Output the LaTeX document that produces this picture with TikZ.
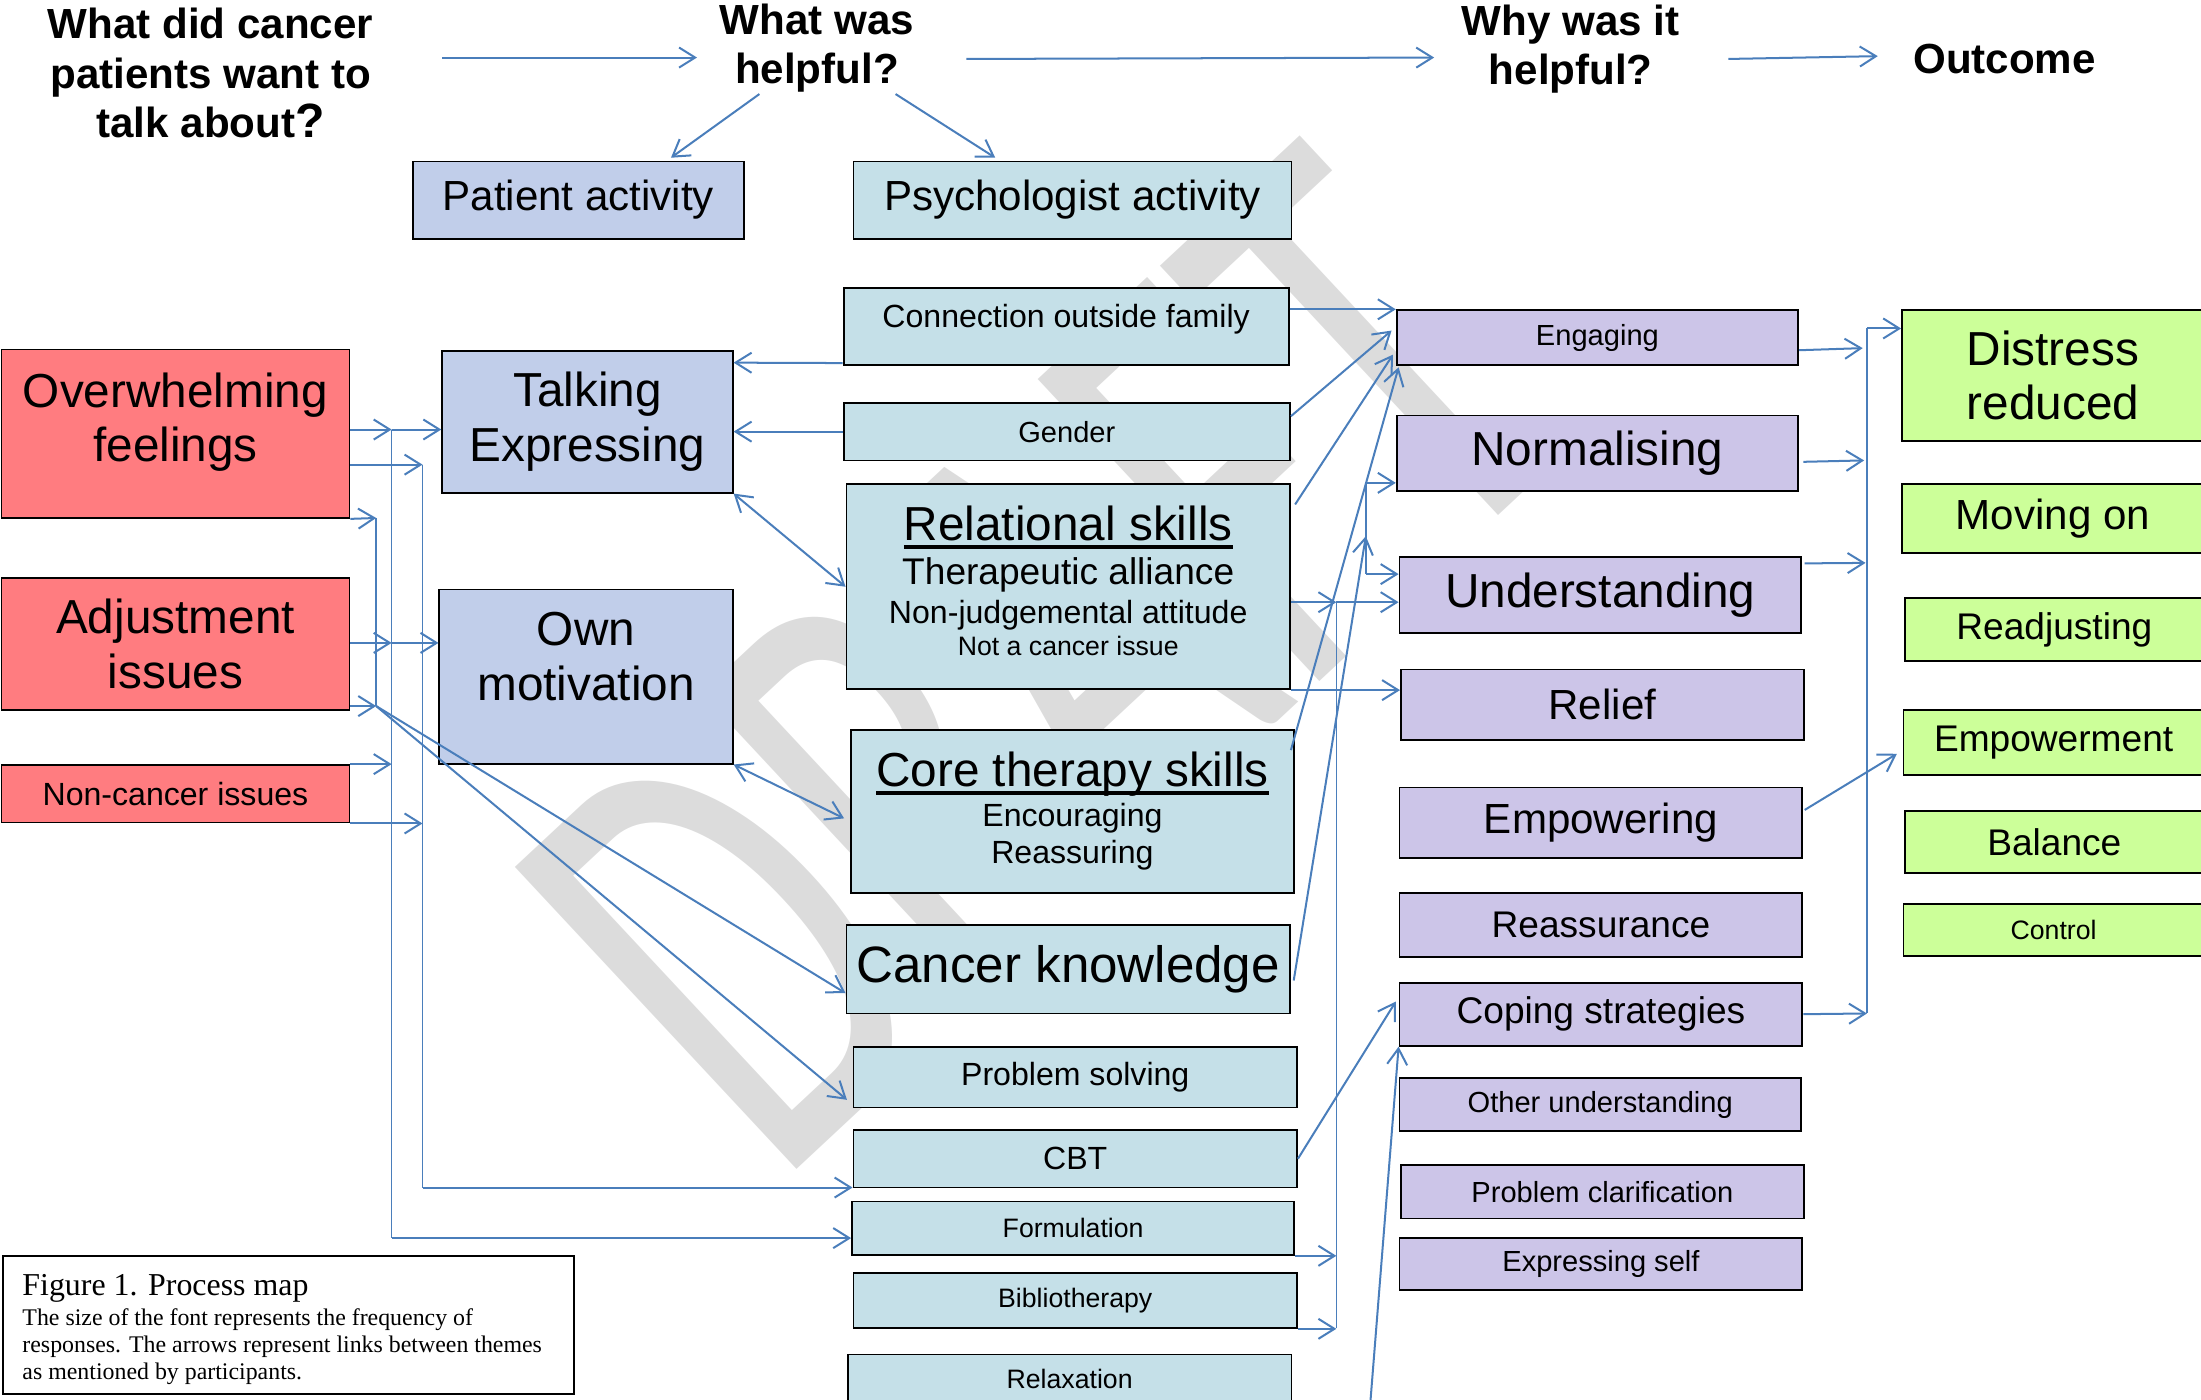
\documentclass[tikz,border=0pt]{standalone}
\usepackage{fontspec}
\setmainfont{Liberation Sans}
\newfontfamily\figcapfont{Liberation Serif}
\newfontfamily\wmfont{Carlito}
\usetikzlibrary{arrows.meta,calc}

\definecolor{redfill}{HTML}{FF7C80}
\definecolor{perifill}{HTML}{C1CEEA}
\definecolor{aquafill}{HTML}{C5E0E8}
\definecolor{lilacfill}{HTML}{CCC5E8}
\definecolor{limefill}{HTML}{CCFF99}
\definecolor{linkblue}{HTML}{4A7EBB}
\definecolor{wmgray}{HTML}{DCDCDC}

% thick rule under the skill titles
\newcommand{\thickul}[1]{\setbox0\hbox{#1}\rlap{\rule[-4.2pt]{\wd0}{1.7pt}}\box0}

\begin{document}
\begin{tikzpicture}[x=0.7pt, y=-0.7pt,
  span/.style n args={4}{at={({(#1+#3)/2},{(#2+#4)/2})}, minimum width={(#3-#1)*0.7pt}, minimum height={(#4-#2)*0.7pt}},
  box/.style={draw, line width=0.9pt, inner sep=0pt, align=center},
  redbox/.style={box, fill=redfill},
  peribox/.style={box, fill=perifill},
  aquabox/.style={box, fill=aquafill},
  lilacbox/.style={box, fill=lilacfill},
  limebox/.style={box, fill=limefill},
  txtHead/.style={font=\bfseries\fontsize{21}{24.5}\selectfont, align=center, inner sep=0pt},
  txtXL/.style={font=\fontsize{25.5}{29}\selectfont},
  txtL/.style={font=\fontsize{23.8}{27.3}\selectfont},
  txtM/.style={font=\fontsize{21}{24}\selectfont},
  txtMS/.style={font=\fontsize{18.5}{22}\selectfont},
  txtS/.style={font=\fontsize{16}{19}\selectfont},
  txtXS/.style={font=\fontsize{14.5}{17}\selectfont},
  txtXXS/.style={font=\fontsize{13.3}{16}\selectfont},
  wmark/.style={rotate=43, anchor=base west, inner sep=0pt},
  link/.style={draw=linkblue, line width=0.8pt},
  arr/.style={draw=linkblue, line width=1pt, -{Straight Barb[length=8pt,width=10pt]}},
  dbl/.style={draw=linkblue, line width=1pt, {Straight Barb[length=8pt,width=10pt]}-{Straight Barb[length=8pt,width=10pt]}}]

\useasboundingbox (0,0) rectangle (1568,997);

% watermark
\node[wmark, text=wmgray] (draftmark) at (553,847)
  {\scalebox{0.64}[1]{\fontsize{321}{321}\wmfont DRAFT}};

% headings
\node[txtHead] (h1) at (150,52) {What did cancer\\patients want to\\talk about{\fontsize{24}{24}\selectfont ?}};
\node[txtHead] (h2) at (582,34) {What was\\helpful?};
\node[txtHead] (h3) at (1119,35) {Why was it\\helpful?};
\node[txtHead] (h4) at (1428,42) {Outcome};

% what patients talked about
\node[redbox, txtL, span={1}{249}{249}{369}] (overw)
  {\parbox[c][84pt][t]{173.6pt}{\centering\rule{0pt}{28.7pt}Overwhelming\par feelings\par}};
\node[redbox, txtL, span={1}{412}{249}{506}] (adjust) {Adjustment\\issues};
\node[redbox, txtS, span={1}{545}{249}{586}] (noncancer) {Non-cancer issues};

% patient activity
\node[peribox, txtM, span={294}{115}{530}{170}] (patient) {Patient activity};
\node[peribox, txtL, span={315}{250}{522}{351}] (talking) {Talking\\Expressing};
\node[peribox, txtL, span={313}{420}{522}{544}] (ownmot)
  {\parbox[c][86.8pt][t]{146.3pt}{\centering\rule{0pt}{28pt}Own\par motivation\par}};

% psychologist activity
\node[aquabox, txtM, span={608}{115}{920}{170}] (psych) {Psychologist activity};
\node[aquabox, txtS, span={601}{205}{918}{260}] (connect)
  {\parbox[c][38.5pt][t]{221.9pt}{\centering\rule{0pt}{19.7pt}Connection outside family\par}};
\node[aquabox, txtXS, span={601}{287}{919}{328}] (gender) {Gender};
\node[aquabox, span={603}{345}{919}{491}] (relational)
  {\parbox[c][102.2pt][t]{221.2pt}{\centering
   {\fontsize{23.8}{27.3}\selectfont\rule{0pt}{28pt}\thickul{Relational skills}\par}
   {\fontsize{18.5}{22}\selectfont Therapeutic alliance\par}
   {\fontsize{16}{19.25}\selectfont Non-judgemental attitude\par}
   {\fontsize{13.3}{16.1}\selectfont Not a cancer issue\par}}};
\node[aquabox, span={606}{520}{922}{636}] (core)
  {\parbox[c][81.2pt][t]{221.2pt}{\centering
   {\fontsize{23.8}{27.3}\selectfont\rule{0pt}{28pt}\thickul{Core therapy skills}\par}
   {\fontsize{16}{20.3}\selectfont Encouraging\par}
   {\fontsize{16}{18.2}\selectfont Reassuring\par}}};
\node[aquabox, txtXL, span={603}{659}{919}{722}] (cancer) {Cancer knowledge};
\node[aquabox, txtS, span={608}{746}{924}{789}] (probsolve) {Problem solving};
\node[aquabox, txtS, span={608}{805}{924}{846}] (cbt) {CBT};
\node[aquabox, txtXXS, span={607}{856}{922}{894}] (formul) {Formulation};
\node[aquabox, txtXXS, span={608}{907}{924}{946}] (biblio) {Bibliotherapy};
\node[aquabox, txtXXS, span={604}{965}{920}{1000}] (relax) {Relaxation};

% why it helped
\node[lilacbox, txtXS, span={995}{221}{1281}{260}] (engaging) {Engaging};
\node[lilacbox, txtL, span={995}{296}{1281}{350}] (normal) {Normalising};
\node[lilacbox, txtL, span={997}{397}{1283}{451}] (underst) {Understanding};
\node[lilacbox, txtM, span={998}{477}{1285}{527}] (relief) {Relief};
\node[lilacbox, txtM, span={997}{561}{1284}{611}] (empowering) {Empowering};
\node[lilacbox, txtMS, span={997}{636}{1284}{682}] (reassur) {Reassurance};
\node[lilacbox, txtMS, span={997}{700}{1284}{745}] (coping) {Coping strategies};
\node[lilacbox, txtXS, span={997}{768}{1283}{806}] (otherund) {Other understanding};
\node[lilacbox, txtXS, span={998}{830}{1285}{868}] (probclar) {Problem clarification};
\node[lilacbox, txtXS, span={997}{882}{1284}{919}] (exprself) {Expressing self};

% outcome
\node[limebox, txtL, span={1355}{221}{1570}{314}] (distress) {Distress\\reduced};
\node[limebox, txtM, span={1355}{345}{1570}{394}] (movingon) {Moving on};
\node[limebox, txtMS, span={1357}{426}{1570}{471}] (readjust) {Readjusting};
\node[limebox, txtMS, span={1356}{506}{1570}{552}] (empowerment) {Empowerment};
\node[limebox, txtMS, span={1357}{578}{1570}{622}] (balance) {Balance};
\node[limebox, txtXXS, span={1356}{644}{1570}{681}] (control) {Control};

% caption
\node[box, fill=white, span={2}{895}{409}{993}] (caption)
  {\parbox[c][68.6pt][t]{284.9pt}{\raggedright\figcapfont\leftskip=9.8pt
   {\fontsize{15.9}{18}\selectfont\rule{0pt}{19.6pt}Figure 1. Process map\par}\vspace{1pt}
   {\fontsize{11.9}{13.65}\selectfont The size of the font represents the frequency of\\
    responses. The arrows represent links between themes\\
    as mentioned by participants.\par}}};

% heading arrows
\draw[arr] ($(h1.east)+(49,-11)$) -- ($(h2.west)+(-16,7)$);
\draw[arr] ($(h2.east)+(37,8)$) -- ($(h3.west)+(-19.5,6)$);
\draw[arr] ($(h3.east)+(34.5,7)$) -- ($(h4.west)+(-25,-2)$);
\draw[arr] ($(h2.center)+(-41,33)$) -- ($(patient.north)+(66,-2)$);
\draw[arr] ($(h2.center)+(56,33)$) -- ($(psych.north)+(-55,-2)$);

% left buses
\coordinate (busA1) at (268,369);
\coordinate (busA2) at (268,503);
\coordinate (busB1) at (279,306);
\coordinate (busB2) at (279,458);
\coordinate (busB3) at (279,882);
\coordinate (busC1) at (301,331);
\coordinate (busC2) at (301,846);
\draw[link] (busA1) -- (busA2);
\draw[link] (busB1) -- (busB3);
\draw[link] (busC1) -- (busC2);

\draw[arr] (overw.east |- busB1) -- (busB1);
\draw[arr] (busB1) -- (talking.west |- busB1);
\draw[arr] (overw.east |- busC1) -- (busC1);
\draw[arr] (overw.south east) -- (busA1);
\draw[arr] (adjust.east |- busB2) -- (busB2);
\draw[arr] (busB2) -- (ownmot.west |- busB2);
\draw[arr] (adjust.east |- busA2) -- (busA2);
\draw[arr] (noncancer.north east) -- (noncancer.north east -| busB1);
\draw[arr] (noncancer.south east) -- (noncancer.south east -| busC1);
\draw[arr] (busB3) -- (formul.west |- busB3);
\draw[arr] (busC2) -- (cbt.west |- busC2);
\draw[arr] (busA2) -- ($(cancer.west)+(0,17)$);
\draw[arr] (busA2) -- ($(probsolve.west)+(-4,16)$);

% psychologist activity back to patient activity
\draw[arr] ($(connect.south west)+(0,-2)$) -- ($(talking.north east)+(0,9)$);
\draw[arr] (gender.west) -- (gender.west -| talking.east);
\draw[dbl] (talking.south east) -- (relational.west);
\draw[dbl] (ownmot.south east) -- ($(core.west)+(-4,5)$);

% psychologist activity to why it helped
\draw[arr] (connect.east |- engaging.north west) -- (engaging.north west);
\draw[arr] ($(gender.east)+(0,-11)$) -- ($(engaging.west)+(-3,-5)$);
\draw[arr] ($(relational.north east)+(3,15)$) -- ($(engaging.south west)+(-2,-8)$);
\draw[arr] ($(core.north east)+(-3,15)$) -- ($(engaging.south west)+(2,1)$);

\coordinate (busD1) at (973,344);
\coordinate (busD2) at (973,382);
\coordinate (busD3) at (973,409);
\draw[link] (busD1) -- (busD3);
\draw[arr] ($(cancer.east)+(2,8)$) -- (busD2);
\draw[arr] (busD1) -- (normal.west |- busD1);
\draw[arr] (busD3) -- (underst.west |- busD3);

\coordinate (busE1) at (952,429);
\coordinate (busE2) at (952,946);
\draw[link] (busE1) -- (busE2);
\draw[arr] (relational.east |- busE1) -- (busE1);
\draw[arr] (busE1) -- (underst.west |- busE1);
\draw[arr] (formul.south east) -- (formul.south east -| busE1);
\draw[arr] (biblio.south east) -- (biblio.south east -| busE1);
\draw[arr] (relational.south east) -- (relational.south east -| relief.west);
\draw[arr] (cbt.east) -- ($(coping.west)+(-2,-9)$);
\coordinate (offframe) at (976,1002);
\draw[arr] (offframe) -- (coping.south west);

% why it helped to outcome
\coordinate (busF1) at (1330,234);
\coordinate (busF2) at (1330,722);
\draw[link] (busF1) -- (busF2);
\draw[arr] (busF1) -- (distress.west |- busF1);
\draw[arr] ($(engaging.east)+(0,9)$) -- ($(busF1)+(-3,14)$);
\draw[arr] ($(normal.east)+(3,6)$) -- ($(busF1)+(-2,94)$);
\draw[arr] ($(underst.north east)+(2,5)$) -- ($(busF1)+(-1,167)$);
\draw[arr] (coping.east) -- (busF2);
\draw[arr] ($(empowering.east)+(1,-9)$) -- ($(empowerment.west)+(-4,8)$);
\end{tikzpicture}
\end{document}
